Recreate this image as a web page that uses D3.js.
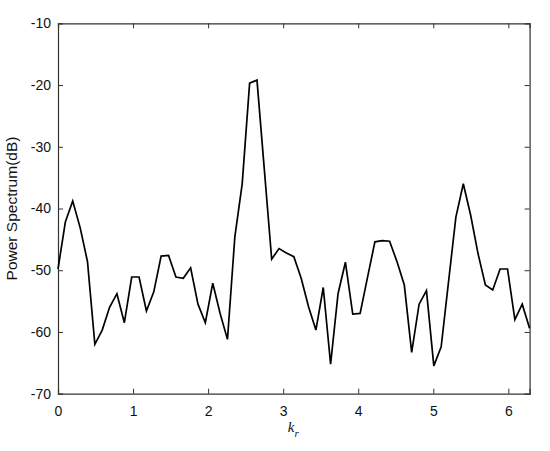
<!DOCTYPE html>
<html>
<head>
<meta charset="utf-8">
<script src="https://cdn.jsdelivr.net/npm/d3@7"></script>
<style>
  body { margin: 0; background: #fff; }
  svg { display: block; }
</style>
</head>
<body>
<div id="chart"></div>
<script>
// sampled wavenumbers k_r (0 .. 2pi)
var kr = [0.000, 0.098, 0.196, 0.295, 0.393, 0.491, 0.589, 0.687, 0.785, 0.884,
          0.982, 1.080, 1.178, 1.276, 1.374, 1.473, 1.571, 1.669, 1.767, 1.865,
          1.963, 2.062, 2.160, 2.258, 2.356, 2.454, 2.553, 2.651, 2.749, 2.847,
          2.945, 3.043, 3.142, 3.240, 3.338, 3.436, 3.534, 3.632, 3.731, 3.829,
          3.927, 4.025, 4.123, 4.222, 4.320, 4.418, 4.516, 4.614, 4.712, 4.811,
          4.909, 5.007, 5.105, 5.203, 5.301, 5.400, 5.498, 5.596, 5.694, 5.792,
          5.890, 5.989, 6.087, 6.185, 6.283];

// power spectrum in dB
var power = [-49.8, -42.2, -38.8, -43.1, -48.6, -62.0, -59.7, -56.0, -53.8, -58.5,
             -51.1, -51.1, -56.6, -53.5, -47.7, -47.6, -51.1, -51.3, -49.6, -55.5,
             -58.5, -52.1, -57.0, -61.2, -44.6, -36.0, -19.7, -19.2, -33.7, -48.2,
             -46.5, -47.2, -47.8, -51.3, -55.9, -59.7, -52.8, -65.2, -53.8, -48.7,
             -57.1, -57.0, -51.2, -45.4, -45.2, -45.3, -48.6, -52.4, -63.3, -55.5,
             -53.3, -65.5, -62.4, -51.9, -41.4, -36.0, -41.1, -47.3, -52.4, -53.2,
             -49.8, -49.8, -58.0, -55.5, -59.4];

var xTicks = [0, 1, 2, 3, 4, 5, 6];
var yTicks = [-70, -60, -50, -40, -30, -20, -10];

var margin = {top: 23.3, right: 20.4, bottom: 57.3, left: 58};
var width = 550 - margin.left - margin.right,
    height = 451 - margin.top - margin.bottom;

var svg = d3.select("#chart").append("svg")
    .attr("width", 550)
    .attr("height", 451)
    .append("g")
    .attr("transform", "translate(" + margin.left + "," + margin.top + ")");

var x = d3.scaleLinear().domain([0, 2 * Math.PI]).range([0, width]);
var y = d3.scaleLinear().domain([-70, -10]).range([height, 0]);

var font = "Arial, 'Liberation Sans', Helvetica, sans-serif";
var axisColor = "#333";
// plain hyphen for negatives, as in the reference
var plain = function (d) { return String(d); };

// bottom + top axes (ticks pointing inward)
var gx = svg.append("g")
    .attr("transform", "translate(0," + height + ")")
    .call(d3.axisBottom(x).tickValues(xTicks).tickSize(-5).tickPadding(12).tickFormat(plain));
var gxTop = svg.append("g")
    .call(d3.axisTop(x).tickValues(xTicks).tickSize(-5).tickFormat(""));

// left + right axes
var gy = svg.append("g")
    .call(d3.axisLeft(y).tickValues(yTicks).tickSize(-5).tickPadding(7).tickFormat(plain));
var gyRight = svg.append("g")
    .attr("transform", "translate(" + width + ",0)")
    .call(d3.axisRight(y).tickValues(yTicks).tickSize(-5).tickFormat(""));

[gx, gxTop, gy, gyRight].forEach(function (g) {
    g.selectAll(".domain").attr("stroke", axisColor).attr("stroke-width", 1.2);
    g.selectAll(".tick line").attr("stroke", axisColor).attr("stroke-width", 1);
    g.selectAll("text")
        .style("font-family", font)
        .style("font-size", "14px")
        .attr("fill", "#111");
});
// drop the tick marks sitting on the corners
gx.selectAll(".tick").filter(function (d) { return d === 0; }).select("line").remove();
gxTop.selectAll(".tick").filter(function (d) { return d === 0; }).select("line").remove();
gy.selectAll(".tick").filter(function (d) { return d === -70 || d === -10; }).select("line").remove();
gyRight.selectAll(".tick").filter(function (d) { return d === -70 || d === -10; }).select("line").remove();

// the spectrum line
var line = d3.line()
    .x(function (d, i) { return x(kr[i]); })
    .y(function (d) { return y(d); });

svg.append("path")
    .datum(power)
    .attr("fill", "none")
    .attr("stroke", "#000")
    .attr("stroke-width", 1.7)
    .attr("stroke-linejoin", "miter")
    .attr("d", line);

// y label
svg.append("text")
    .attr("transform", "translate(" + (-41) + "," + (height / 2) + ") rotate(-90)")
    .attr("text-anchor", "middle")
    .style("font-family", font)
    .style("font-size", "15.5px")
    .attr("fill", "#111")
    .text("Power Spectrum(dB)");

// x label k_r
var xl = svg.append("text")
    .attr("x", width / 2 - 6)
    .attr("y", height + 38)
    .style("font-family", "'Liberation Serif', 'Times New Roman', serif")
    .style("font-style", "italic")
    .style("font-size", "15px")
    .attr("fill", "#111");
xl.append("tspan").text("k");
xl.append("tspan").attr("dy", 5).style("font-size", "11px").text("r");
</script>
</body>
</html>
